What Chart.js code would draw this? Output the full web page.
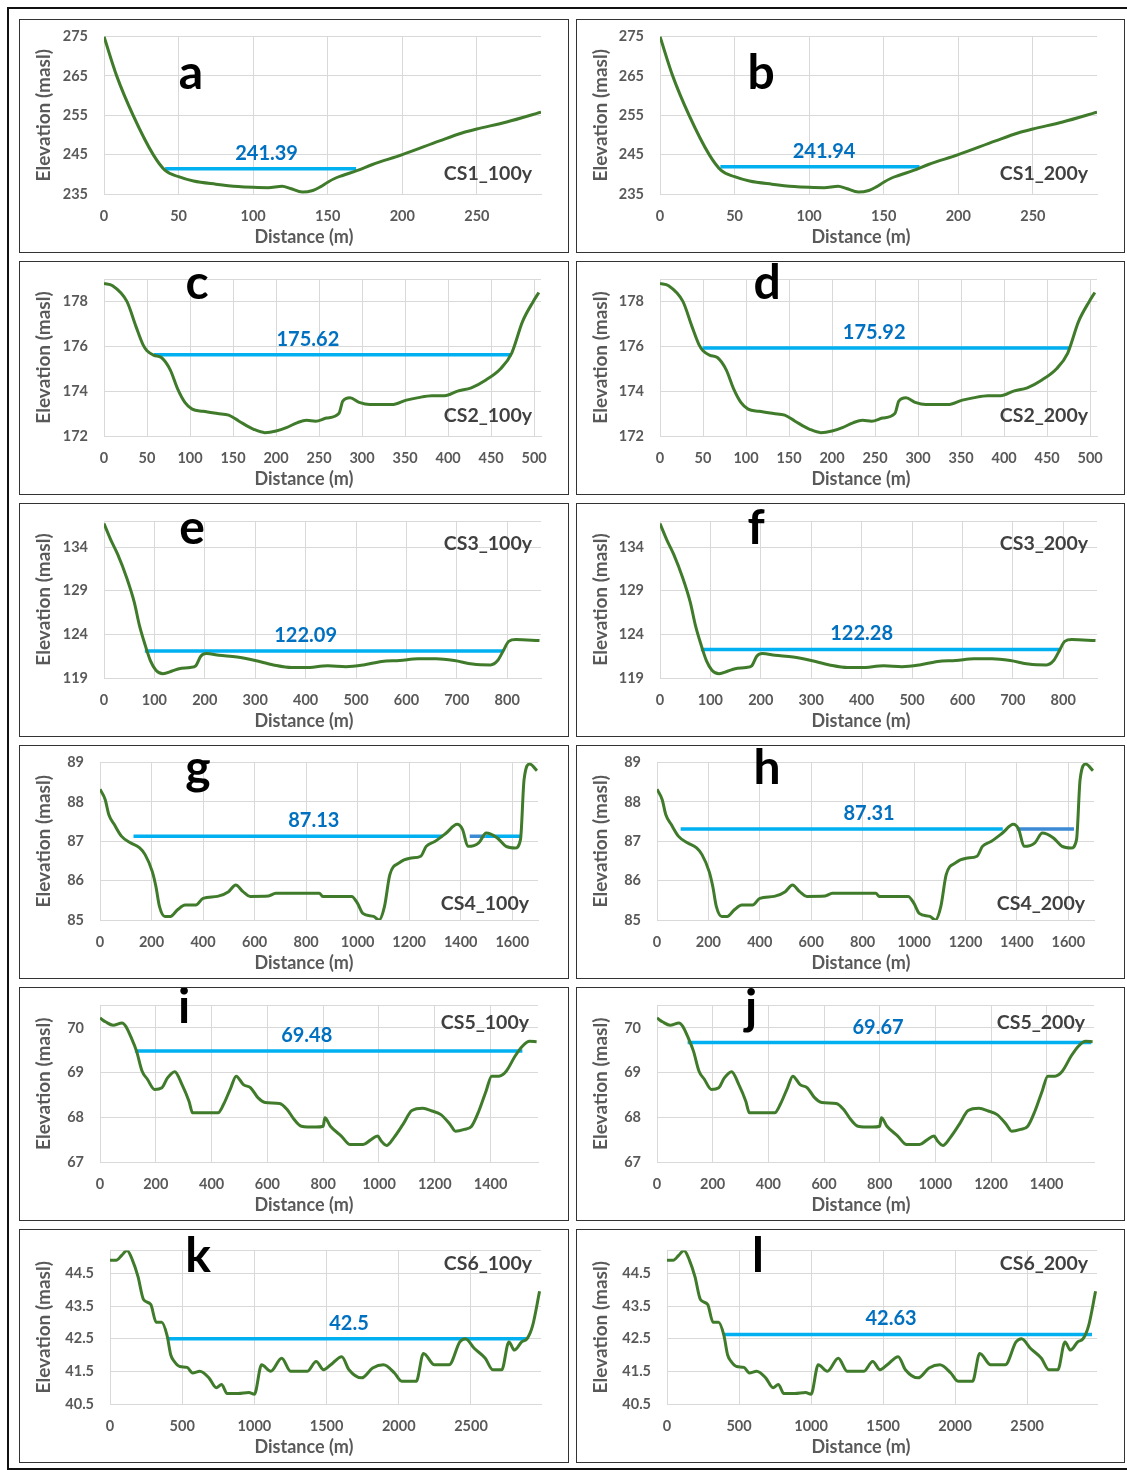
<!DOCTYPE html>
<html lang="en">
<head>
<meta charset="UTF-8">
<title>Cross sections CS1-CS6, 100y and 200y water levels</title>
<script src="https://cdn.jsdelivr.net/npm/chart.js"></script>
<style>
  body { margin: 0; background: #fff; width: 1127px; height: 1470px; position: relative; overflow: hidden; }
  .frame { position: absolute; left: 7px; top: 7px; width: 1130px; height: 1459px; border: 2px solid #111; }
  .panel { position: absolute; height: 234px; border: 1.5px solid #333; box-sizing: border-box; background: #fff; }
</style>
</head>
<body>
<div class="frame"></div>
<div id="panels"></div>
<script>
// terrain profiles (distance m, elevation masl)
const cs1Dist = [0, 8.5, 19.5, 33, 41, 50, 60, 75, 90, 100, 110, 119.5, 125, 133, 140, 145, 150, 155, 160, 170, 180, 200, 225, 240, 250, 270, 293];
const cs1Elev = [275, 265, 255, 245, 241, 239.4, 238.3, 237.5, 236.9, 236.7, 236.6, 237.0, 236.4, 235.5, 235.9, 236.8, 238.0, 239.0, 239.7, 241.0, 242.5, 245, 248.5, 250.5, 251.5, 253.3, 255.8];

const cs2Dist = [0, 10, 26.6, 37, 45.6, 50, 58, 66.7, 77, 85.6, 94, 102.5, 115, 132, 145, 157, 174, 187, 200, 212, 225, 235.5, 246, 258.6, 273, 277.6, 286, 296.6, 309, 334.6, 351.5, 364, 381, 396, 411, 427, 444, 461, 474, 486.5, 499, 505.5];
const cs2Elev = [178.8, 178.7, 178.0, 176.9, 176.05, 175.8, 175.6, 175.5, 174.95, 174.1, 173.5, 173.2, 173.1, 173.0, 172.93, 172.66, 172.3, 172.15, 172.22, 172.37, 172.6, 172.7, 172.66, 172.8, 173.0, 173.55, 173.7, 173.5, 173.4, 173.4, 173.6, 173.7, 173.8, 173.8, 174.0, 174.15, 174.5, 175.0, 175.7, 177.1, 178.0, 178.4];

const cs3Dist = [0, 13, 27, 45, 60, 70, 81, 92, 103, 117, 135, 149, 171, 182, 192, 203, 228, 264, 300, 336, 372, 399, 444, 480, 515, 551, 587, 623, 659, 695, 731, 767, 781, 792, 803, 817, 864];
const cs3Elev = [136.7, 134.9, 133.2, 130.5, 127.7, 125.1, 122.9, 121, 119.9, 119.5, 119.8, 120.05, 120.2, 120.4, 121.5, 121.8, 121.6, 121.4, 121, 120.5, 120.2, 120.2, 120.4, 120.3, 120.5, 120.9, 121, 121.2, 121.2, 121, 120.6, 120.5, 121, 122.1, 123.2, 123.4, 123.3];

const cs4Dist = [0, 20, 34, 55, 83, 118, 154, 175, 203, 217, 231, 252, 273, 301, 330, 372, 400, 456, 499, 527, 555, 583, 654, 682, 851, 865, 977, 999, 1020, 1062, 1083, 1104, 1125, 1161, 1203, 1245, 1266, 1301, 1344, 1386, 1407, 1428, 1470, 1499, 1541, 1576, 1611, 1632, 1646, 1668, 1696];
const cs4Elev = [88.32, 88.06, 87.68, 87.43, 87.13, 86.96, 86.83, 86.66, 86.23, 85.85, 85.34, 85.09, 85.09, 85.26, 85.38, 85.38, 85.55, 85.6, 85.72, 85.89, 85.72, 85.6, 85.61, 85.68, 85.68, 85.6, 85.6, 85.43, 85.17, 85.09, 85.0, 85.34, 86.15, 86.45, 86.57, 86.62, 86.87, 87.0, 87.21, 87.43, 87.3, 86.87, 86.96, 87.21, 87.09, 86.87, 86.83, 87.04, 88.57, 88.96, 88.79];

const cs5Dist = [0, 21, 47, 79, 92, 112, 131, 151, 170, 196, 222, 242, 268, 294, 319, 332, 371, 423, 443, 469, 488, 514, 540, 566, 592, 644, 670, 696, 722, 774, 800, 806, 826, 865, 897, 943, 969, 995, 1008, 1027, 1053, 1086, 1118, 1157, 1190, 1222, 1255, 1274, 1306, 1332, 1358, 1384, 1404, 1430, 1456, 1488, 1514, 1540, 1565];
const cs5Elev = [70.22, 70.13, 70.06, 70.11, 70.04, 69.78, 69.48, 69.03, 68.85, 68.62, 68.66, 68.88, 69.02, 68.73, 68.36, 68.1, 68.1, 68.1, 68.29, 68.66, 68.92, 68.73, 68.66, 68.44, 68.33, 68.31, 68.18, 67.95, 67.8, 67.78, 67.8, 67.99, 67.8, 67.58, 67.39, 67.39, 67.49, 67.58, 67.47, 67.37, 67.54, 67.84, 68.15, 68.2, 68.14, 68.06, 67.84, 67.69, 67.73, 67.8, 68.14, 68.59, 68.92, 68.92, 69.03, 69.37, 69.59, 69.70, 69.69];

const cs6Dist = [0, 43, 81, 118, 156, 194, 232, 282, 320, 358, 395, 421, 446, 484, 534, 572, 622, 685, 736, 773, 811, 887, 962, 1000, 1050, 1113, 1189, 1252, 1365, 1428, 1479, 1529, 1605, 1655, 1743, 1819, 1894, 1970, 2020, 2121, 2171, 2247, 2348, 2423, 2461, 2524, 2599, 2650, 2713, 2763, 2801, 2851, 2889, 2927, 2975];
const cs6Elev = [44.9, 44.9, 45.05, 45.2, 44.9, 44.4, 43.7, 43.55, 43.0, 43.0, 42.6, 42.0, 41.8, 41.65, 41.62, 41.45, 41.5, 41.3, 41.0, 41.1, 40.82, 40.82, 40.85, 40.8, 41.7, 41.5, 41.9, 41.5, 41.5, 41.8, 41.55, 41.7, 41.95, 41.55, 41.3, 41.6, 41.7, 41.45, 41.2, 41.2, 42.05, 41.7, 41.7, 42.4, 42.5, 42.2, 41.9, 41.55, 41.55, 42.4, 42.15, 42.4, 42.5, 42.9, 43.95];

const profileDist = [cs1Dist, cs2Dist, cs3Dist, cs4Dist, cs5Dist, cs6Dist];
const profileElev = [cs1Elev, cs2Elev, cs3Elev, cs4Elev, cs5Elev, cs6Elev];

// axes
const xMaxes = [293, 508, 867, 1700, 1570, 2985];
const xTicks = [
  [0, 50, 100, 150, 200, 250],
  [0, 50, 100, 150, 200, 250, 300, 350, 400, 450, 500],
  [0, 100, 200, 300, 400, 500, 600, 700, 800],
  [0, 200, 400, 600, 800, 1000, 1200, 1400, 1600],
  [0, 200, 400, 600, 800, 1000, 1200, 1400],
  [0, 500, 1000, 1500, 2000, 2500]
];
const yMins = [235, 172, 119, 85, 67, 40.5];
const yMaxes = [275, 179, 137, 89, 70.5, 45.2];
const yTicks = [
  [235, 245, 255, 265, 275],
  [172, 174, 176, 178],
  [119, 124, 129, 134],
  [85, 86, 87, 88, 89],
  [67, 68, 69, 70],
  [40.5, 41.5, 42.5, 43.5, 44.5]
];

// water surface, one entry per panel a..l
const panelLetters = ['a', 'b', 'c', 'd', 'e', 'f', 'g', 'h', 'i', 'j', 'k', 'l'];
const sectionNames = ['CS1_100y', 'CS1_200y', 'CS2_100y', 'CS2_200y', 'CS3_100y', 'CS3_200y',
                      'CS4_100y', 'CS4_200y', 'CS5_100y', 'CS5_200y', 'CS6_100y', 'CS6_200y'];
const waterLevels = [241.39, 241.94, 175.62, 175.92, 122.09, 122.28, 87.13, 87.31, 69.48, 69.67, 42.5, 42.63];
// [from, to, 0 = light / 1 = dark]
const waterSpans = [
  [[41, 169, 0]], [[40.5, 174, 0]],
  [[58, 474, 0]], [[49.5, 477, 0]],
  [[81, 792, 0]], [[81, 795, 0]],
  [[130, 1330, 0], [1435, 1495, 1], [1495, 1630, 0]],
  [[92, 1345, 0], [1400, 1622, 1]],
  [[125, 1514, 0]], [[110, 1560, 0]],
  [[395, 2889, 0]], [[392, 2950, 0]]
];
const waterLabelX = [109, 110, 237, 249, 400, 400, 830, 825, 741, 794, 1655, 1555];

// layout (pixels)
const rowTops = [19, 261, 503, 745, 987, 1229];
const colLefts = [19, 576];
const colWidths = [550, 549];
const yAxisWidths = [[84, 83], [84, 83], [84, 83], [80, 80], [80, 80], [90, 90]];
const rightPads = [27, 27, 27, 30, 30, 27];
const topPads = [16.5, 17, 17, 16.5, 17.5, 20.5];
const letterPos = [[171, 69], [184, 69], [177, 37], [190, 37], [172, 40], [179, 40],
                   [178, 38], [190, 38], [164, 35], [174, 36], [178, 42], [181, 42]];
const nameY = [154, 154, 154, 154, 40, 40, 158, 158, 35, 35, 34, 34];
const xTitleX = 284;

const FONT = 'Lato, "Open Sans", sans-serif';
const GRID = '#d9d9d9';
const GREY = '#595959';

const panelText = {
  id: 'panelText',
  afterDatasetsDraw(chart, args, o) {
    const { ctx, chartArea, scales } = chart;
    ctx.save();
    ctx.textAlign = 'center';
    ctx.textBaseline = 'alphabetic';
    ctx.fillStyle = '#000';
    ctx.font = 'bold 48px ' + FONT;
    ctx.fillText(o.letter, o.letterX, o.letterY);
    ctx.fillStyle = '#0070c0';
    ctx.font = 'bold 20px ' + FONT;
    ctx.fillText(String(o.level), scales.x.getPixelForValue(o.labelX), scales.y.getPixelForValue(o.level) - 9);
    ctx.fillStyle = GREY;
    ctx.font = 'bold 18px ' + FONT;
    ctx.textBaseline = 'middle';
    ctx.fillText('Distance (m)', xTitleX, chart.height - 15);
    ctx.fillStyle = '#404040';
    ctx.font = 'bold 19.5px ' + FONT;
    ctx.textAlign = 'right';
    ctx.fillText(o.name, chartArea.right - 9, o.nameY);
    ctx.restore();
  }
};

const holder = document.getElementById('panels');

for (let p = 0; p < 12; p++) {
  const cs = Math.floor(p / 2);
  const col = p % 2;
  const div = document.createElement('div');
  div.className = 'panel';
  div.style.left = colLefts[col] + 'px';
  div.style.top = rowTops[cs] + 'px';
  div.style.width = colWidths[col] + 'px';
  const canvas = document.createElement('canvas');
  div.appendChild(canvas);
  holder.appendChild(div);

  const ground = profileDist[cs].map((d, i) => ({ x: d, y: profileElev[cs][i] }));
  const datasets = [{
    data: ground,
    borderColor: '#3f7b2a',
    borderWidth: 3,
    pointRadius: 0,
    cubicInterpolationMode: 'monotone'
  }];
  waterSpans[p].forEach(s => {
    datasets.push({
      data: [{ x: s[0], y: waterLevels[p] }, { x: s[1], y: waterLevels[p] }],
      borderColor: s[2] ? '#3d8ad4' : '#00b0f0',
      borderWidth: 3.5,
      pointRadius: 0
    });
  });

  const yt = yTicks[cs];
  const yMax = yMaxes[cs];
  const yList = yt.includes(yMax) ? yt : yt.concat([yMax]);

  new Chart(canvas, {
    type: 'line',
    data: { datasets },
    plugins: [panelText],
    options: {
      responsive: true,
      maintainAspectRatio: false,
      animation: false,
      events: [],
      layout: { padding: { top: topPads[cs], right: rightPads[cs], left: 0, bottom: 0 } },
      plugins: {
        legend: { display: false },
        tooltip: { enabled: false },
        panelText: {
          letter: panelLetters[p],
          letterX: letterPos[p][0],
          letterY: letterPos[p][1],
          level: waterLevels[p],
          labelX: waterLabelX[p],
          name: sectionNames[p],
          nameY: nameY[p]
        }
      },
      scales: {
        x: {
          type: 'linear',
          min: 0,
          max: xMaxes[cs],
          afterBuildTicks: s => { s.ticks = xTicks[cs].map(v => ({ value: v })); },
          afterFit: s => { s.height = 58; s.paddingLeft = 0; s.paddingRight = 0; },
          grid: { color: GRID, drawTicks: false },
          border: { color: GRID },
          ticks: {
            color: GREY, padding: 14, maxRotation: 0, autoSkip: false,
            font: { family: FONT, size: 14.5, weight: 'bold' },
            callback: v => String(v)
          },
          title: { display: false }
        },
        y: {
          min: yMins[cs],
          max: yMax,
          afterBuildTicks: s => { s.ticks = yList.map(v => ({ value: v })); },
          afterFit: s => { s.width = yAxisWidths[cs][col]; s.paddingTop = 0; s.paddingBottom = 0; },
          grid: { color: GRID, drawTicks: false },
          border: { display: false },
          ticks: {
            color: GREY, padding: 16,
            font: { family: FONT, size: 14.5, weight: 'bold' },
            callback: v => (yt.includes(v) ? String(v) : '')
          },
          title: {
            display: true, text: 'Elevation (masl)', color: GREY,
            font: { family: FONT, size: 19, weight: 'bold' },
            padding: { top: 12, bottom: 0 }
          }
        }
      }
    }
  });
}
</script>
</body>
</html>
